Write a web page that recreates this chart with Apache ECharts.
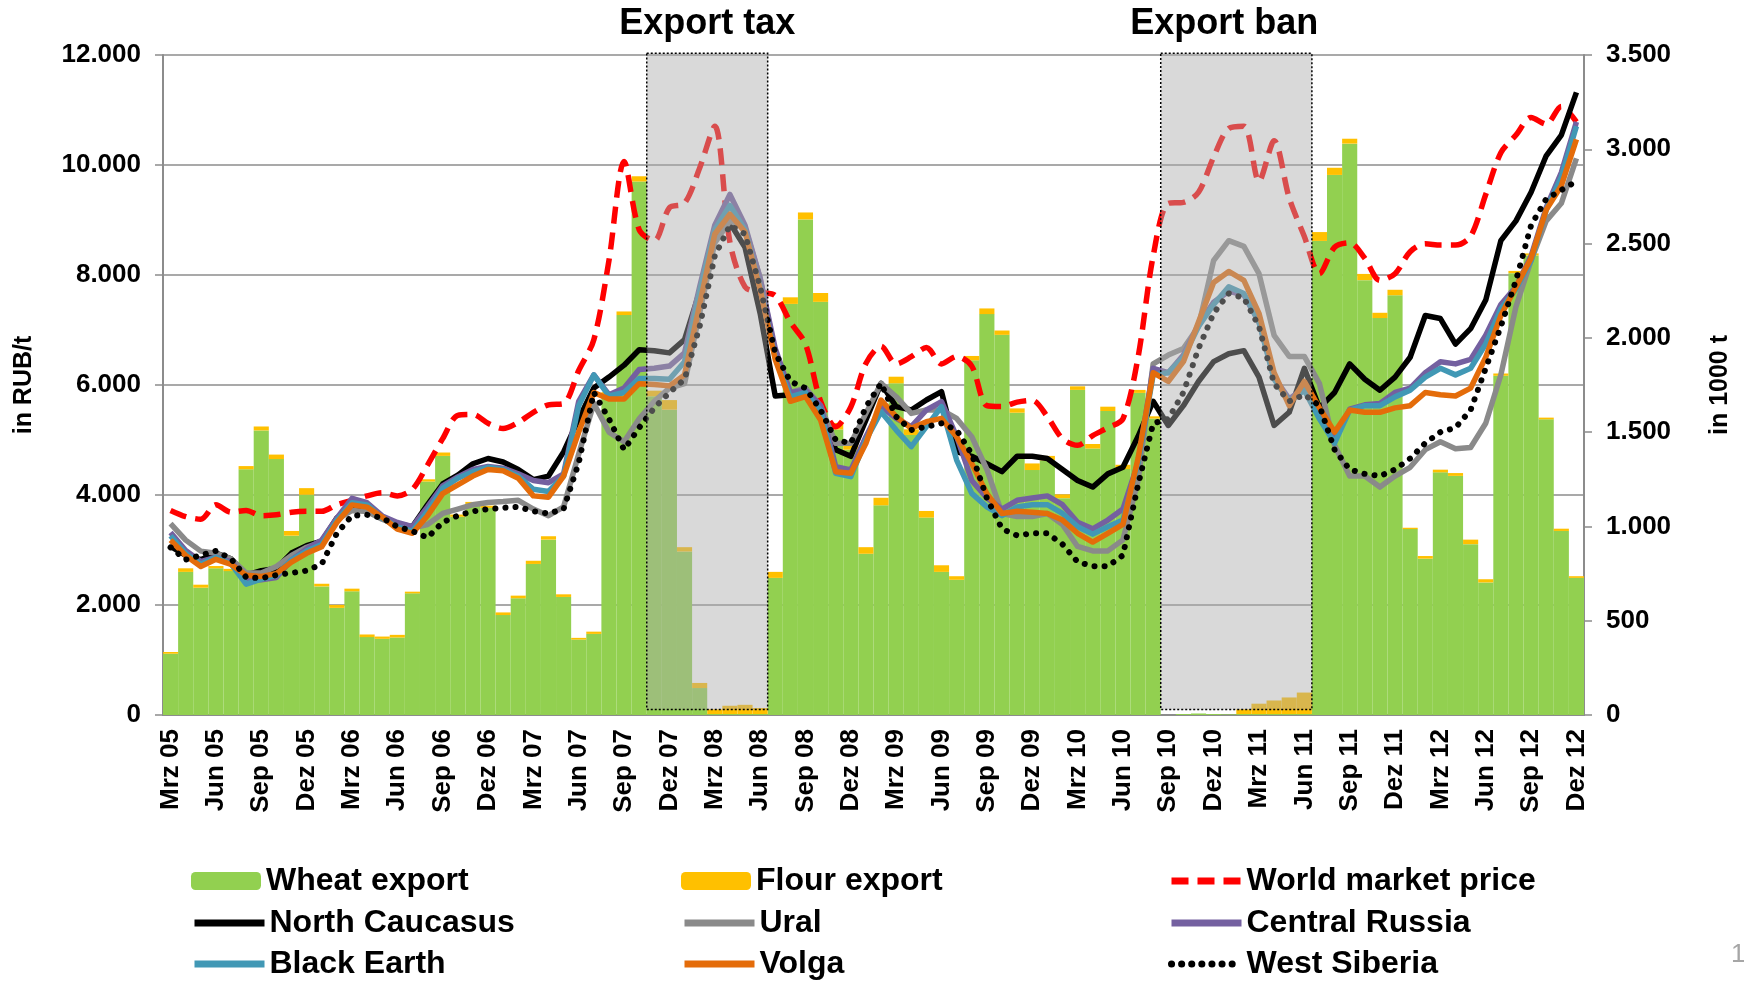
<!DOCTYPE html>
<html>
<head>
<meta charset="utf-8">
<title>Wheat export and prices</title>
<script src="https://cdn.jsdelivr.net/npm/echarts@6/dist/echarts.min.js"></script>
<style>
  html, body { margin: 0; padding: 0; background: #fff; }
  #chart { width: 1744px; height: 981px; }
</style>
</head>
<body>
<div id="chart"></div>
<script>
// months Mrz 05 .. Dez 12
const monthNames = ['Jan', 'Feb', 'Mrz', 'Apr', 'Mai', 'Jun', 'Jul', 'Aug', 'Sep', 'Okt', 'Nov', 'Dez']
const months = []
for (let y = 5; y <= 12; y++) {
  for (let m = (y === 5 ? 2 : 0); m < 12; m++) {
    months.push(monthNames[m] + ' ' + (y < 10 ? '0' + y : y))
  }
}

// exports, 1000 t (right axis)
const wheatExport = [
  325, 759, 675, 778, 763, 1303, 1509, 1357, 951, 1168, 682, 568, 656, 413, 404, 411,
  645, 1238, 1374, 1051, 1116, 1098, 530, 619, 801, 930, 626, 400, 430, 1700, 2121, 2829,
  1690, 1619, 867, 143, 5, 5, 5, 5, 727, 2180, 2628, 2191, 1514, 1407, 855, 1112, 1759,
  1485, 1047, 759, 717, 1881, 2126, 2016, 1603, 1299, 1350, 1150, 1724, 1413, 1612, 1304, 1708, 1572,
  0, 5, 8, 5, 3, 5, 5, 5, 5, 5, 2514, 2864, 3030, 2306, 2105, 2226,
  986, 829, 1287, 1268, 906, 703, 1799, 2343, 2437, 1568, 976, 727
]
const flourExport = [
  9, 19, 16, 12, 12, 17, 21, 24, 25, 35, 14, 16, 14, 14, 12, 14,
  9, 12, 18, 12, 14, 12, 14, 14, 17, 18, 14, 9, 12, 12, 19, 28,
  30, 51, 23, 27, 25, 44, 49, 32, 32, 35, 37, 47, 35, 30, 35, 40, 35,
  30, 35, 35, 19, 23, 30, 23, 23, 35, 24, 20, 19, 24, 23, 23, 16, 12,
  0, 0, 0, 0, 0, 25, 55, 72, 88, 114, 47, 38, 26, 33, 28, 29,
  7, 14, 14, 15, 24, 17, 12, 12, 11, 9, 12, 9
]

// prices, RUB/t (left axis)
const worldMarket = [
  3720, 3608, 3560, 3824, 3688, 3720, 3624, 3640, 3688, 3704, 3704, 3824, 3904, 3984, 4040, 3984,
  4104, 4544, 5024, 5448, 5464, 5304, 5208, 5320, 5504, 5640, 5664, 6264, 6824, 8264, 10064, 8824,
  8624, 9224, 9304, 9944, 10704, 8600, 7784, 7688, 7624, 7144, 6744, 5704, 5242, 5600, 6393, 6704, 6384,
  6515, 6680, 6384, 6520, 6344, 5624, 5608, 5688, 5720, 5424, 5024, 4904, 5080, 5224, 5384, 6504, 8344,
  9304, 9320, 9504, 10144, 10664, 10704, 9704, 10440, 9400, 8700, 8024, 8504, 8584, 8304, 7904, 8024,
  8424, 8568, 8544, 8544, 8704, 9464, 10224, 10544, 10864, 10744, 11064, 10784
]
const northCaucasus = [
  3064, 2904, 2824, 2944, 2840, 2544, 2624, 2664, 2944, 3080, 3160, 3584, 3784, 3744, 3584, 3480,
  3424, 3824, 4200, 4360, 4568, 4664, 4600, 4464, 4280, 4344, 4784, 5384, 5944, 6144, 6360, 6640,
  6624, 6584, 6824, 7704, 8744, 8944, 8504, 7304, 5800, 5824, 5944, 5480, 4824, 4704, 5363, 6030, 5606,
  5545, 5727, 5878, 4787, 4704, 4568, 4424, 4704, 4704, 4664, 4464, 4264, 4144, 4384, 4504, 5064, 5704,
  5264, 5624, 6064, 6424, 6568, 6624, 6144, 5264, 5504, 6304, 5584, 5864, 6384, 6104, 5904, 6144,
  6504, 7264, 7208, 6744, 7024, 7544, 8624, 8984, 9504, 10168, 10544, 11320
]
const ural = [
  3480, 3180, 2980, 2940, 2840, 2580, 2580, 2700, 2900, 3050, 3150, 3550, 3720, 3700, 3560, 3450,
  3400, 3464, 3664, 3744, 3824, 3864, 3880, 3904, 3744, 3624, 3784, 4744, 5664, 5144, 4968, 5384,
  5704, 5944, 6024, 7304, 8584, 8984, 8864, 7944, 6584, 5864, 5944, 5624, 4939, 4939, 5484, 6030, 5787,
  5484, 5545, 5545, 5393, 5060, 4464, 3664, 3608, 3608, 3664, 3464, 3064, 2984, 2984, 3184, 4264, 6384,
  6544, 6664, 7064, 8264, 8624, 8520, 8024, 6904, 6520, 6520, 6024, 4904, 4344, 4344, 4144, 4344,
  4504, 4824, 4968, 4840, 4864, 5304, 6184, 7424, 8264, 8984, 9304, 10120
]
const centralRussia = [
  3320, 2990, 2790, 2870, 2790, 2460, 2460, 2500, 2820, 3020, 3180, 3580, 3940, 3860, 3620, 3500,
  3424, 3784, 4168, 4328, 4464, 4520, 4488, 4384, 4264, 4224, 4384, 5704, 6184, 5824, 5944, 6280,
  6304, 6344, 6584, 7784, 8904, 9464, 8904, 7944, 6664, 5864, 5904, 5624, 4515, 4454, 5060, 5606, 5393,
  5242, 5545, 5696, 5064, 4264, 3944, 3744, 3904, 3944, 3984, 3824, 3504, 3384, 3544, 3744, 4584, 6304,
  6224, 6544, 7104, 7504, 7704, 7640, 7144, 6144, 5744, 5944, 5424, 5024, 5560, 5640, 5664, 5864,
  5944, 6224, 6424, 6384, 6464, 6904, 7464, 7784, 8344, 9224, 9864, 10784
]
const blackEarth = [
  3260, 2940, 2740, 2870, 2750, 2380, 2470, 2540, 2820, 2980, 3100, 3540, 3860, 3820, 3580, 3420,
  3344, 3704, 4120, 4304, 4424, 4504, 4464, 4344, 4104, 4064, 4344, 5624, 6184, 5800, 5864, 6120,
  6120, 6104, 6424, 7704, 8824, 9264, 8824, 7784, 6504, 5784, 5864, 5544, 4394, 4333, 5000, 5515, 5181,
  4879, 5242, 5606, 4636, 4030, 3784, 3624, 3784, 3824, 3824, 3664, 3424, 3288, 3424, 3544, 4584, 6184,
  6224, 6504, 7064, 7464, 7784, 7664, 7144, 6104, 5704, 5904, 5384, 4944, 5544, 5624, 5624, 5784,
  5904, 6144, 6304, 6184, 6304, 6744, 7384, 7744, 8264, 9184, 9784, 10704
]
const volga = [
  3180, 2900, 2700, 2830, 2740, 2540, 2520, 2570, 2780, 2940, 3060, 3500, 3820, 3780, 3600, 3380,
  3304, 3624, 4024, 4184, 4344, 4464, 4440, 4304, 3984, 3960, 4344, 5144, 5864, 5744, 5744, 6024,
  6008, 5984, 6184, 7464, 8744, 9104, 8784, 7744, 6464, 5704, 5790, 5363, 4424, 4394, 4939, 5727, 5424,
  5212, 5333, 5393, 5060, 4575, 4024, 3664, 3704, 3688, 3664, 3544, 3304, 3144, 3304, 3464, 4664, 6224,
  6064, 6424, 7144, 7864, 8064, 7904, 7304, 6224, 5624, 6064, 5584, 5144, 5544, 5504, 5504, 5584,
  5624, 5864, 5824, 5800, 5944, 6504, 7264, 7784, 8304, 9184, 9624, 10464
]
const westSiberia = [
  3048, 2824, 2904, 2984, 2840, 2504, 2488, 2544, 2584, 2624, 2744, 3304, 3624, 3640, 3584, 3424,
  3344, 3224, 3504, 3624, 3704, 3744, 3768, 3784, 3704, 3664, 3744, 4584, 5864, 5384, 4824, 5224,
  5584, 5864, 6104, 7064, 8344, 8904, 8744, 7784, 6584, 6064, 5944, 5544, 5000, 4939, 5606, 6030, 5424,
  5181, 5242, 5303, 5181, 4744, 3944, 3384, 3264, 3304, 3304, 3104, 2784, 2704, 2704, 2904, 4184, 5300,
  5384, 5864, 6664, 7304, 7664, 7584, 7064, 6024, 5704, 5824, 5624, 4824, 4464, 4384, 4344, 4464,
  4664, 4944, 5144, 5224, 5544, 6304, 7064, 7904, 8904, 9384, 9544, 9704
]

// policy periods: first and last month index
const policyPeriods = [[32, 39], [66, 75]]
const policyTitles = ['Export tax', 'Export ban']
const policyTitleShift = [0, -12]

// legend grid: 3 rows x 3 columns
const legendRows = [
  ['Wheat export', 'Flour export', 'World market price'],
  ['North Caucasus', 'Ural', 'Central Russia'],
  ['Black Earth', 'Volga', 'West Siberia']
]
const legendLeft = [191, 681, 1168]
const legendTop = [864, 906, 947]
const barNames = ['Wheat export', 'Flour export']

const FONT = 'Liberation Sans, Arial, sans-serif'
const GRID_GREY = '#8c8c8c'

function thousands(v) {
  return String(v).replace(/\B(?=(\d{3})+(?!\d))/g, '.')
}

function priceLine(name, data, color, lineStyle, extra) {
  return Object.assign({
    name: name,
    type: 'line',
    yAxisIndex: 0,
    data: data,
    symbol: 'none',
    z: 3,
    lineStyle: Object.assign({ color: color, width: 5.5, join: 'round' }, lineStyle),
    itemStyle: { color: color }
  }, extra)
}

const legends = []
legendRows.forEach((row, r) => {
  row.forEach((name, c) => {
    const isBar = barNames.indexOf(name) > -1
    legends.push({
      data: [name],
      left: legendLeft[c],
      top: legendTop[r],
      padding: 0,
      itemWidth: 70,
      itemHeight: 18,
      selectedMode: false,
      // line series: hide the marker circle, keep a thick line
      itemStyle: isBar ? {} : { opacity: 0 },
      lineStyle: { width: 7 },
      textStyle: { fontFamily: FONT, fontSize: 32, fontWeight: 'bold', color: '#000', lineHeight: 34 }
    })
  })
})

const chart = echarts.init(document.getElementById('chart'))
chart.setOption({
  animation: false,
  backgroundColor: '#fff',
  textStyle: { fontFamily: FONT },
  grid: {
    left: 163,
    right: 160,
    top: 55,
    bottom: 266,
    outerBoundsMode: 'none'
  },
  legend: legends,
  xAxis: {
    type: 'category',
    data: months,
    boundaryGap: true,
    axisLine: { lineStyle: { color: GRID_GREY, width: 2 } },
    axisTick: { interval: 2, length: 9, lineStyle: { color: GRID_GREY, width: 1.5 } },
    axisLabel: {
      interval: 2,
      rotate: 90,
      margin: 14,
      color: '#000',
      fontSize: 26,
      fontWeight: 'bold',
      fontFamily: FONT
    }
  },
  yAxis: [{
    type: 'value',
    min: 0,
    max: 12000,
    interval: 2000,
    name: 'in RUB/t',
    nameLocation: 'middle',
    nameGap: 126,
    nameTextStyle: { fontSize: 25, fontWeight: 'bold', color: '#000', fontFamily: FONT },
    axisLine: { show: true, lineStyle: { color: GRID_GREY, width: 2 } },
    axisTick: { show: true, length: 8, lineStyle: { color: GRID_GREY, width: 1.5 } },
    splitLine: { lineStyle: { color: GRID_GREY, width: 1.5 } },
    axisLabel: {
      margin: 22,
      color: '#000',
      fontSize: 26,
      fontWeight: 'bold',
      fontFamily: FONT,
      formatter: thousands
    }
  }, {
    type: 'value',
    min: 0,
    max: 3500,
    interval: 500,
    name: 'in 1000 t',
    nameLocation: 'middle',
    nameGap: 124,
    nameTextStyle: { fontSize: 25, fontWeight: 'bold', color: '#000', fontFamily: FONT },
    axisLine: { show: true, lineStyle: { color: GRID_GREY, width: 2 } },
    axisTick: { show: true, length: 8, lineStyle: { color: GRID_GREY, width: 1.5 } },
    splitLine: { show: false },
    axisLabel: {
      margin: 22,
      color: '#000',
      fontSize: 26,
      fontWeight: 'bold',
      fontFamily: FONT,
      formatter: thousands
    }
  }],
  graphic: [{
    type: 'text',
    right: -14,
    top: 942,
    style: { text: '11', fontSize: 26, fontFamily: FONT, fill: '#a6a6a6' }
  }],
  series: [{
    name: 'Wheat export',
    type: 'bar',
    yAxisIndex: 1,
    stack: 'export',
    data: wheatExport,
    barCategoryGap: '0%',
    itemStyle: { color: '#92d050' },
    z: 1
  }, {
    name: 'Flour export',
    type: 'bar',
    yAxisIndex: 1,
    stack: 'export',
    data: flourExport,
    barCategoryGap: '0%',
    itemStyle: { color: '#ffc000' },
    z: 1
  },
  priceLine('World market price', worldMarket, '#ff0000', { type: [17, 9] }, { smooth: 0.3 }),
  priceLine('North Caucasus', northCaucasus, '#000000', {}),
  priceLine('Ural', ural, '#8a8a8a', {}),
  priceLine('Central Russia', centralRussia, '#7460a0', {}),
  priceLine('Black Earth', blackEarth, '#4198b5', {}),
  priceLine('Volga', volga, '#e46c0a', {}),
  priceLine('West Siberia', westSiberia, '#000000', { type: [0.1, 10], width: 6, cap: 'round' }),
  {
    // shaded export tax / export ban periods, drawn over the data
    name: 'policy',
    type: 'custom',
    data: policyPeriods,
    encode: { x: [0, 1] },
    z: 10,
    silent: true,
    renderItem: function (params, api) {
      const band = api.size([1, 0])[0]
      const p0 = api.coord([api.value(0), 12030])
      const p1 = api.coord([api.value(1), 100])
      const x0 = p0[0] - band / 2
      const x1 = p1[0] + band / 2
      return {
        type: 'group',
        children: [{
          type: 'rect',
          shape: { x: x0, y: p0[1], width: x1 - x0, height: p1[1] - p0[1] },
          style: { fill: 'rgba(170,170,170,0.45)', stroke: '#000', lineWidth: 1.5, lineDash: [2, 2] }
        }, {
          type: 'text',
          style: {
            text: policyTitles[params.dataIndex],
            x: (x0 + x1) / 2 + policyTitleShift[params.dataIndex],
            y: p0[1] - 11,
            align: 'center',
            verticalAlign: 'bottom',
            fontSize: 36,
            fontWeight: 'bold',
            fontFamily: FONT,
            fill: '#000'
          }
        }]
      }
    }
  }]
})
</script>
</body>
</html>
